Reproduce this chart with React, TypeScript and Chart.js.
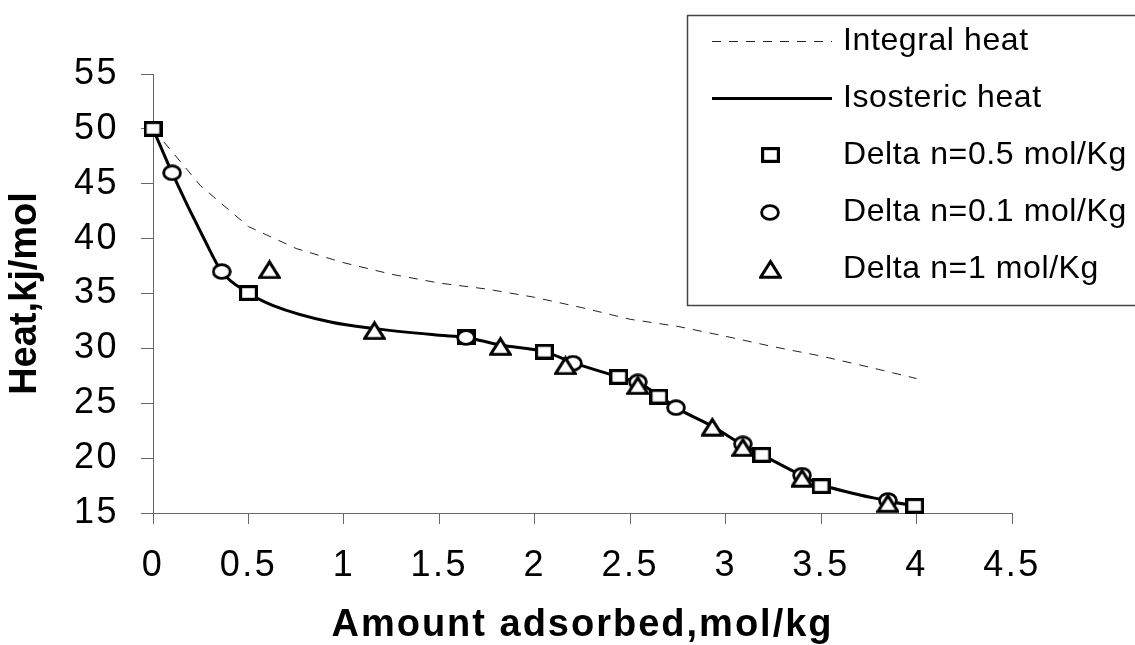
import React, { useEffect, useRef } from "react";
import { Chart, registerables } from "chart.js";

Chart.register(...registerables);

// ---- axis ranges / ticks ----
const xTickMin = 0;
const xTickMax = 4.5;
const xTickStep = 0.5;
const yTickMin = 15;
const yTickMax = 55;
const yTickStep = 5;

const xTitle = "Amount adsorbed,mol/kg";
const yTitle = "Heat,kj/mol";

// ---- series labels ----
const seriesLabels = [
  "Integral heat",
  "Isosteric heat",
  "Delta n=0.5 mol/Kg",
  "Delta n=0.1 mol/Kg",
  "Delta n=1 mol/Kg",
];

// ---- data ----
const integralX = [0, 0.25, 0.5, 0.75, 1, 1.25, 1.5, 1.75, 2, 2.25, 2.5, 2.75, 3, 3.25, 3.5, 3.75, 4];
const integralY = [50, 44.8, 41.1, 39.1, 37.8, 36.75, 35.95, 35.4, 34.65, 33.7, 32.65, 32.0, 31.1, 30.15, 29.3, 28.3, 27.25];

const isostericX = [0, 0.1, 0.27, 0.36, 0.5, 0.63, 0.93, 1.16, 1.5, 1.64, 1.82, 2.05, 2.2, 2.44, 2.54, 2.65, 2.74, 2.93, 3.09, 3.19, 3.4, 3.5, 3.85, 3.99];
const isostericY = [50, 46, 39.9, 37.0, 35.05, 33.9, 32.4, 31.8, 31.2, 31.0, 30.3, 29.7, 28.7, 27.4, 26.9, 25.7, 24.6, 22.9, 21.2, 20.3, 18.4, 17.6, 16.1, 15.65];

const delta05X = [0, 0.5, 1.64, 2.05, 2.44, 2.65, 3.19, 3.5, 3.99];
const delta05Y = [50, 35.05, 31.0, 29.7, 27.4, 25.6, 20.3, 17.45, 15.65];

const delta01X = [0.1, 0.36, 1.64, 2.2, 2.54, 2.74, 3.09, 3.4, 3.85];
const delta01Y = [46.0, 37.0, 31.0, 28.65, 26.95, 24.6, 21.3, 18.45, 16.15];

const delta1X = [0.61, 1.16, 1.82, 2.16, 2.54, 2.93, 3.09, 3.4, 3.85];
const delta1Y = [37.2, 31.65, 30.2, 28.45, 26.65, 22.85, 21.0, 18.2, 15.9];

const FONT = '"Liberation Sans", Arial, Helvetica, sans-serif';

const pts = (xs: number[], ys: number[]) => xs.map((x, i) => ({ x, y: ys[i] }));

function makeMarker(kind: "square" | "circle" | "triangle"): HTMLCanvasElement {
  const c = document.createElement("canvas");
  const ctx = c.getContext("2d")!;
  if (kind === "square") {
    c.width = 19;
    c.height = 16;
    ctx.lineWidth = 3.2;
    ctx.fillStyle = "#fff";
    ctx.strokeStyle = "#000";
    ctx.fillRect(1.6, 1.6, 15.8, 12.8);
    ctx.strokeRect(1.6, 1.6, 15.8, 12.8);
  } else if (kind === "circle") {
    c.width = 20;
    c.height = 17;
    ctx.lineWidth = 2.8;
    ctx.fillStyle = "#fff";
    ctx.strokeStyle = "#000";
    ctx.beginPath();
    ctx.ellipse(10, 8.5, 8.4, 6.9, 0, 0, Math.PI * 2);
    ctx.fill();
    ctx.stroke();
  } else {
    c.width = 23;
    c.height = 20;
    ctx.lineWidth = 3;
    ctx.lineJoin = "miter";
    ctx.fillStyle = "#fff";
    ctx.strokeStyle = "#000";
    ctx.beginPath();
    ctx.moveTo(11.5, 2.6);
    ctx.lineTo(21.3, 18.2);
    ctx.lineTo(1.7, 18.2);
    ctx.closePath();
    ctx.fill();
    ctx.stroke();
  }
  return c;
}

const spacingPlugin = {
  id: "spacing",
  beforeDraw(chart: any) {
    const ctx: any = chart.ctx;
    ctx.letterSpacing = "2.5px";
    const wrap = (scale: any, sp: string) => {
      if (!scale || scale.__wrapped) return;
      const orig = scale.drawTitle;
      scale.drawTitle = function (...args: any[]) {
        const c: any = this.ctx;
        const prev = c.letterSpacing;
        c.letterSpacing = sp;
        orig.apply(this, args);
        c.letterSpacing = prev;
      };
      scale.__wrapped = true;
    };
    wrap(chart.scales.x, "2px");
    wrap(chart.scales.y, "0px");
  },
  afterDraw(chart: any) {
    (chart.ctx as any).letterSpacing = "0px";
  },
};

const legendPlugin = {
  id: "boxLegend",
  afterDraw(chart: any) {
    const ctx: any = chart.ctx;
    ctx.save();
    ctx.letterSpacing = "0.6px";
    ctx.fillStyle = "#fff";
    ctx.fillRect(687, 15, 470, 290);
    ctx.strokeStyle = "#444";
    ctx.lineWidth = 1.5;
    ctx.strokeRect(687.5, 15.5, 470, 290);
    chart.data.datasets.forEach((ds: any, i: number) => {
      const y = 41 + i * 57;
      if (ds.showLine) {
        ctx.save();
        ctx.strokeStyle = ds.borderColor;
        ctx.lineWidth = ds.borderWidth;
        ctx.setLineDash(ds.borderDash || []);
        ctx.beginPath();
        ctx.moveTo(712, y + 0.5);
        ctx.lineTo(832, y + 0.5);
        ctx.stroke();
        ctx.restore();
      } else {
        const img = ds.pointStyle as HTMLCanvasElement;
        ctx.drawImage(img, Math.round(770 - img.width / 2), Math.round(y - img.height / 2));
      }
      ctx.fillStyle = "#000";
      ctx.font = `32px ${FONT}`;
      ctx.textAlign = "left";
      ctx.textBaseline = "middle";
      ctx.fillText(ds.label, 843, y);
    });
    ctx.restore();
  },
};

const fmt = (v: any) => String(Number(v));

export default function App() {
  const ref = useRef<HTMLCanvasElement | null>(null);

  useEffect(() => {
    if (!ref.current) return;
    const squareImg = makeMarker("square");
    const circleImg = makeMarker("circle");
    const triImg = makeMarker("triangle");

    const chart = new Chart(ref.current, {
      type: "scatter",
      data: {
        datasets: [
          {
            label: seriesLabels[0],
            data: pts(integralX, integralY),
            showLine: true,
            borderColor: "#222",
            borderWidth: 1,
            borderDash: [9, 8],
            pointRadius: 0,
            tension: 0,
            order: 5,
            clip: false,
          } as any,
          {
            label: seriesLabels[1],
            data: pts(isostericX, isostericY),
            showLine: true,
            borderColor: "#000",
            borderWidth: 3,
            pointRadius: 0,
            cubicInterpolationMode: "monotone",
            order: 4,
            clip: false,
          } as any,
          {
            label: seriesLabels[2],
            data: pts(delta05X, delta05Y),
            showLine: false,
            pointStyle: squareImg,
            pointRadius: 9,
            order: 3,
            clip: false,
          } as any,
          {
            label: seriesLabels[3],
            data: pts(delta01X, delta01Y),
            showLine: false,
            pointStyle: circleImg,
            pointRadius: 9,
            order: 2,
            clip: false,
          } as any,
          {
            label: seriesLabels[4],
            data: pts(delta1X, delta1Y),
            showLine: false,
            pointStyle: triImg,
            pointRadius: 10,
            order: 1,
            clip: false,
          } as any,
        ],
      },
      options: {
        animation: false,
        responsive: false,
        devicePixelRatio: 1,
        events: [],
        color: "#000",
        layout: { padding: { top: 74, right: 123, left: 0, bottom: 0 } },
        plugins: {
          legend: { display: false },
          tooltip: { enabled: false },
          title: { display: false },
        },
        scales: {
          x: {
            type: "linear",
            position: "bottom",
            min: xTickMin,
            max: xTickMax,
            afterFit: (s: any) => {
              s.height = 132;
            },
            ticks: {
              stepSize: xTickStep,
              color: "#000",
              padding: 20,
              maxRotation: 0,
              autoSkip: false,
              callback: fmt,
              font: { family: FONT, size: 36 },
            },
            grid: {
              drawOnChartArea: false,
              drawTicks: true,
              tickLength: 11,
              color: "#666",
              lineWidth: 1,
            },
            border: { color: "#666", width: 1 },
            title: {
              display: true,
              text: xTitle,
              color: "#000",
              font: { family: FONT, size: 38, weight: "bold", lineHeight: 1 },
              padding: { top: 0, bottom: 0 },
            },
          },
          y: {
            type: "linear",
            position: "left",
            min: yTickMin,
            max: yTickMax,
            afterFit: (s: any) => {
              s.width = 153;
            },
            ticks: {
              stepSize: yTickStep,
              color: "#000",
              padding: 22,
              autoSkip: false,
              callback: fmt,
              font: { family: FONT, size: 36 },
            },
            grid: {
              drawOnChartArea: false,
              drawTicks: true,
              tickLength: 12,
              color: "#666",
              lineWidth: 1,
            },
            border: { color: "#666", width: 1 },
            title: {
              display: true,
              text: yTitle,
              color: "#000",
              font: { family: FONT, size: 38, weight: "bold", lineHeight: 1 },
              padding: { top: 7, bottom: 0 },
            },
          },
        },
      },
      plugins: [spacingPlugin, legendPlugin],
    } as any);

    return () => chart.destroy();
  }, []);

  return (
    <div style={{ position: "fixed", left: 0, top: 0, width: 1135, height: 645, background: "#fff" }}>
      <canvas ref={ref} width={1135} height={645} style={{ display: "block" }} />
    </div>
  );
}
